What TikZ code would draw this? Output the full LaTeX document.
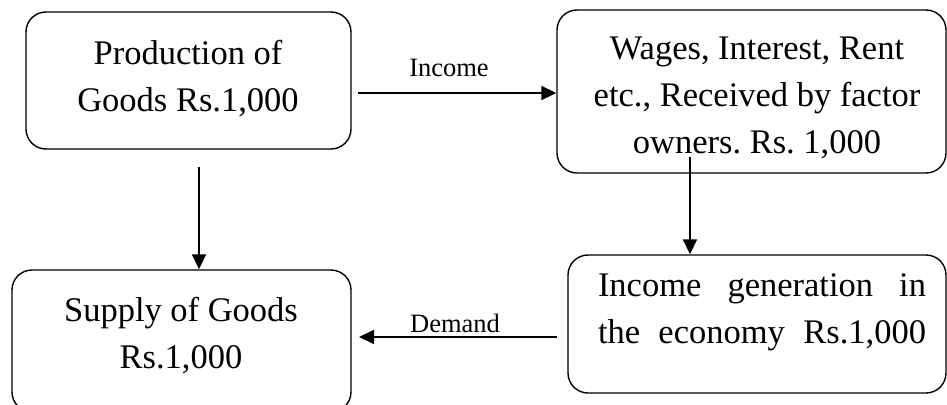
\documentclass[tikz,border=0pt]{standalone}
\usepackage{fontspec}
\setmainfont{Liberation Serif}
\usetikzlibrary{arrows.meta}
\frenchspacing
\begin{document}
\begin{tikzpicture}[x=1pt,y=-1pt,
  box/.style={draw, line width=1.4pt, rounded corners=20pt, inner sep=0pt},
  body/.style={font=\fontsize{34.5}{47}\selectfont, align=center, inner sep=0pt},
  tag/.style={font=\fontsize{26.5}{30}\selectfont, inner sep=0pt},
  flow/.style={line width=1.8pt, -{Triangle[length=15pt,width=14pt]}}]
\useasboundingbox (0,0) rectangle (947,404);
\clip (0,0) rectangle (947,404);
\fill[white] (0,0) rectangle (947,404);

% boxes
\node[box, minimum width=325pt, minimum height=137pt] (A) at (188.5,80.5) {};
\node[box, minimum width=389pt, minimum height=163pt] (B) at (751.5,91.5) {};
\node[box, minimum width=339pt, minimum height=142pt] (C) at (181.5,341) {};
\node[box, minimum width=378pt, minimum height=138pt] (D) at (757,324) {};

% box texts
\node[body] (At) at (188,79) {Production of\\Goods Rs.1,000};
\node[body] (Bt) at (757,98) {Wages, Interest, Rent\\etc., Received by factor\\owners. Rs. 1,000};
\node[body] (Ct) at (181,336) {Supply of Goods\\Rs.1,000};
% justified two-line text
\node[body, text width=328pt, align=left] (Dt) at (762,312)
  {\hbox to 328pt{Income\hfill generation\hfill in}\\\hbox to 328pt{the\hfill economy\hfill Rs.1,000}};

% connectors
\coordinate (a0) at (199,167);
\draw[flow] (a0) -- (a0 |- C.north);
\coordinate (i0) at (358,93);
\draw[flow] (i0) -- (i0 -| B.west);
\coordinate (b0) at (690,157);
\draw[flow] (b0) -- (b0 |- D.north);
\coordinate (d0) at (557,337);
\coordinate (d1) at (359,337);
\draw[flow] (d0) -- (d1);

% connector labels
\node[tag, anchor=base] (il) at (449,77) {Income};
\node[tag, anchor=base] (dl) at (455,332) {Demand};
\end{tikzpicture}
\end{document}
